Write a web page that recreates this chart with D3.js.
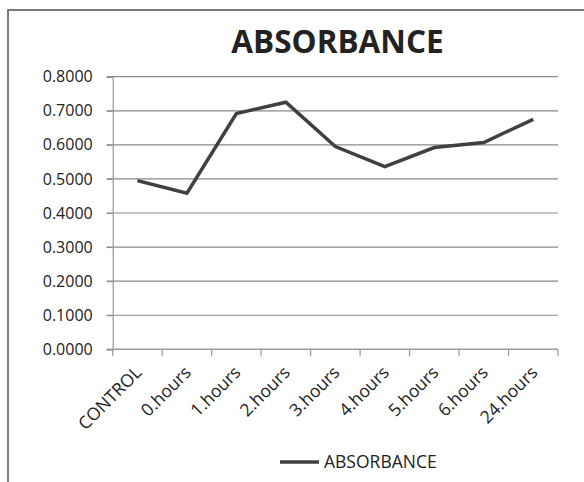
<!DOCTYPE html>
<html>
<head>
<meta charset="utf-8">
<script src="https://cdn.jsdelivr.net/npm/d3@7"></script>
<style>
  html, body { margin: 0; padding: 0; background: #fff; }
  svg { display: block; }
  text { font-family: "Open Sans", "Liberation Sans", sans-serif; fill: #222; }
</style>
</head>
<body>
<script>
// Absorbance readings over time
const categories = ["CONTROL", "0.hours", "1.hours", "2.hours", "3.hours", "4.hours", "5.hours", "6.hours", "24.hours"];
const absorbance = [0.495, 0.458, 0.692, 0.725, 0.595, 0.536, 0.592, 0.607, 0.675];
const yTicks = [0, 0.1, 0.2, 0.3, 0.4, 0.5, 0.6, 0.7, 0.8];
const seriesName = "ABSORBANCE";
const chartTitle = "ABSORBANCE";

const W = 584, H = 482;
const margin = { left: 112.7, right: 26, top: 76.7, bottom: 132.7 };

const svg = d3.select("body").append("svg").attr("width", W).attr("height", H);

// chart frame (top and left edges)
svg.append("path")
  .attr("d", `M8,${H} V10 H${W}`)
  .attr("fill", "none")
  .attr("stroke", "#7a7a7a")
  .attr("stroke-width", 2);

const x = d3.scaleBand().domain(categories).range([margin.left, W - margin.right]);
const y = d3.scaleLinear().domain([0, 0.8]).range([H - margin.bottom, margin.top]);

// horizontal gridlines
svg.append("g")
  .selectAll("line")
  .data(yTicks)
  .join("line")
  .attr("x1", margin.left - 6)
  .attr("x2", W - margin.right)
  .attr("y1", d => y(d))
  .attr("y2", d => y(d))
  .attr("stroke", "#8a8a8a")
  .attr("stroke-width", 1.2);

// y axis
const yAxis = svg.append("g")
  .attr("transform", `translate(${margin.left},0)`)
  .call(d3.axisLeft(y).tickValues(yTicks).tickFormat(d3.format(".4f")).tickSize(6).tickPadding(14));
yAxis.select(".domain").attr("stroke", "#9a9a9a").attr("stroke-width", 1.2);
yAxis.selectAll(".tick line").attr("stroke", "#8a8a8a");
yAxis.selectAll("text").attr("font-size", 16).attr("fill", "#222");

// x axis with ticks between categories
const xAxisG = svg.append("g").attr("transform", `translate(0,${y(0)})`);
const bounds = d3.range(categories.length + 1).map(i => margin.left + i * x.step());
xAxisG.append("line")
  .attr("x1", margin.left).attr("x2", W - margin.right)
  .attr("stroke", "#9a9a9a").attr("stroke-width", 1.2);
xAxisG.selectAll("line.tk")
  .data(bounds)
  .join("line")
  .attr("class", "tk")
  .attr("x1", d => d).attr("x2", d => d)
  .attr("y1", 0).attr("y2", 7)
  .attr("stroke", "#9a9a9a").attr("stroke-width", 1.2);
xAxisG.selectAll("text")
  .data(categories)
  .join("text")
  .attr("transform", d => `translate(${x(d) + x.bandwidth() / 2 + 1},${20}) rotate(-45)`)
  .attr("text-anchor", "end")
  .attr("dy", "0.35em")
  .attr("font-size", 17.5)
  .text(d => d);

// absorbance line
const line = d3.line()
  .x((d, i) => x(categories[i]) + x.bandwidth() / 2)
  .y(d => y(d));
svg.append("path")
  .datum(absorbance)
  .attr("d", line)
  .attr("fill", "none")
  .attr("stroke", "#404040")
  .attr("stroke-width", 3.5)
  .attr("stroke-linejoin", "miter");

// title
svg.append("text")
  .attr("x", 337.5)
  .attr("y", 53)
  .attr("text-anchor", "middle")
  .attr("font-size", 31.5)
  .attr("font-weight", "bold")
  .attr("fill", "#000")
  .text(chartTitle);

// legend
const lg = svg.append("g");
lg.append("line")
  .attr("x1", 280).attr("x2", 319)
  .attr("y1", 462).attr("y2", 462)
  .attr("stroke", "#404040").attr("stroke-width", 3.5);
lg.append("text")
  .attr("x", 324).attr("y", 462)
  .attr("dy", "0.35em")
  .attr("font-size", 17.5)
  .text(seriesName);
</script>
</body>
</html>
